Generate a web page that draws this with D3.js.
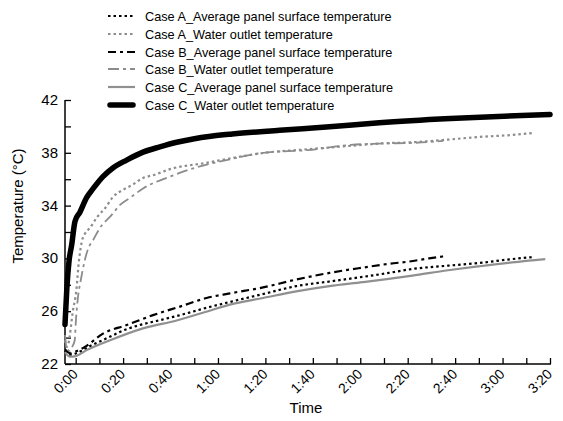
<!DOCTYPE html>
<html>
<head>
<meta charset="utf-8">
<script src="https://cdn.jsdelivr.net/npm/d3@7"></script>
<style>
  body { margin: 0; background: #fff; }
  text { font-family: "Liberation Sans", Arial, sans-serif; }
</style>
</head>
<body>
<script>
var width = 563, height = 421;

// minutes since start
var seriesNames = [
  "Case A_Average panel surface temperature",
  "Case A_Water outlet temperature",
  "Case B_Average panel surface temperature",
  "Case B_Water outlet temperature",
  "Case C_Average panel surface temperature",
  "Case C_Water outlet temperature"
];

var caseAPanel = [[-4.5,23.0],[-2,22.7],[0,22.8],[6.5,23.4],[13.7,24.0],[20.9,24.6],[27,24.95],[35,25.3],[45,25.75],[54,26.2],[65,26.7],[79,27.3],[93,27.9],[107,28.25],[121,28.6],[132,28.9],[142,29.2],[157,29.45],[170,29.65],[184,29.95],[193,30.1]];
var caseAWater = [[-4.5,23.8],[-3.8,23.3],[-3,23.6],[-1.2,26.0],[0.3,27.6],[1.2,29.5],[2.5,31.2],[4,31.9],[6,32.3],[8.9,33.1],[12.4,33.8],[15.7,34.65],[20,35.2],[24.2,35.6],[28.4,36.1],[32.6,36.3],[40.5,36.8],[53.8,37.2],[69,37.7],[82,38.05],[93,38.2],[107,38.4],[121,38.6],[128,38.7],[142,38.8],[157,39.0],[170,39.2],[184,39.35],[193,39.5]];
var caseBPanel = [[-4.5,23.1],[-2,22.8],[0,22.95],[3.9,23.3],[11.5,24.3],[21.5,24.95],[32.6,25.7],[44,26.35],[55.2,27.0],[65,27.35],[79,27.8],[93,28.4],[107,28.9],[121,29.3],[132.5,29.6],[140,29.75],[149,30.0],[155,30.15]];
var caseBWater = [[-4.5,24.2],[-3.8,23.2],[-2.5,23.0],[-1.2,23.4],[-0.4,23.8],[0.1,25.3],[1.0,27.1],[2.2,28.4],[3.9,29.9],[5.2,30.7],[7.4,31.4],[10.2,32.3],[15.2,33.3],[18.7,34.05],[23,34.6],[28.4,35.3],[39.8,36.2],[51,36.9],[65,37.5],[79,38.0],[97.5,38.2],[116,38.6],[128,38.7],[142,38.75],[155,38.9]];
var caseCPanel = [[-4.5,22.9],[-2.4,22.55],[0,22.6],[4.6,23.05],[14.5,23.8],[28.4,24.7],[42.6,25.3],[55.8,26.0],[65,26.5],[79,27.0],[93,27.5],[107,27.9],[121,28.2],[132,28.45],[142,28.7],[157,29.1],[170,29.4],[184,29.7],[198,29.95]];
var caseCWater = [[-4.5,25.0],[-3.7,27.8],[-2.8,29.8],[-1.7,31.0],[-0.3,32.8],[1.8,33.5],[4.6,34.6],[7.4,35.3],[11.5,36.2],[15.7,36.85],[21.5,37.45],[28.4,38.05],[35.5,38.45],[42.6,38.8],[49.5,39.05],[57,39.25],[66,39.42],[86,39.7],[107,39.97],[128,40.28],[158,40.6],[191,40.85],[200,40.9]];

var yTicks = [22, 26, 30, 34, 38, 42];
var xLabels = ["0:00","0:20","0:40","1:00","1:20","1:40","2:00","2:20","2:40","3:00","3:20"];

var styles = [
  { color: "#000", w: 2.2, dash: "2.5,3" },
  { color: "#8c8c8c", w: 2.2, dash: "2.5,3" },
  { color: "#000", w: 2.2, dash: "8,4,3,4" },
  { color: "#8c8c8c", w: 1.8, dash: "11,4,3,4" },
  { color: "#909090", w: 2.2, dash: null },
  { color: "#000", w: 5.5, dash: null }
];
var allData = [caseAPanel, caseAWater, caseBPanel, caseBWater, caseCPanel, caseCWater];

var svg = d3.select("body").append("svg")
  .attr("width", width).attr("height", height);

var x = d3.scaleLinear().domain([-4.5, 200]).range([65, 550]);
var y = d3.scaleLinear().domain([22, 42]).range([364, 100]);

// axes
var yAxis = svg.append("g").attr("transform", "translate(65,0)")
  .call(d3.axisRight(y).tickValues(d3.range(22, 43, 2)).tickSize(6).tickFormat(""));
var xAxis = svg.append("g").attr("transform", "translate(0,364)")
  .call(d3.axisTop(x).tickValues(d3.range(0, 201, 10)).tickSize(6).tickFormat(""));
svg.selectAll(".domain").remove();
svg.selectAll(".tick line").attr("stroke", "#000").attr("stroke-width", 1.3);
svg.append("line").attr("x1", 65).attr("x2", 65).attr("y1", 100).attr("y2", 364)
  .attr("stroke", "#000").attr("stroke-width", 1.5);
svg.append("line").attr("x1", 65).attr("x2", 551).attr("y1", 364).attr("y2", 364)
  .attr("stroke", "#000").attr("stroke-width", 1.5);

svg.selectAll(".ylab").data(yTicks).enter().append("text")
  .attr("x", 58).attr("y", function(d) { return y(d) + 5; })
  .attr("text-anchor", "end").style("font-size", "15px")
  .text(function(d) { return d; });

svg.selectAll(".xlab").data(xLabels).enter().append("text")
  .attr("text-anchor", "end").style("font-size", "14px")
  .attr("transform", function(d, i) {
    return "translate(" + (x(i * 20) + 3) + ",375) rotate(-45)";
  })
  .text(function(d) { return d; });

svg.append("text").attr("x", 306).attr("y", 413).attr("text-anchor", "middle")
  .style("font-size", "15px").text("Time");
svg.append("text").attr("transform", "translate(23,206) rotate(-90)")
  .attr("text-anchor", "middle").style("font-size", "15px").text("Temperature (°C)");

// series
var line = d3.line()
  .x(function(d) { return x(d[0]); })
  .y(function(d) { return y(d[1]); })
  .curve(d3.curveMonotoneX);

allData.forEach(function(data, i) {
  var s = styles[i];
  svg.append("path")
    .attr("d", line(data))
    .attr("fill", "none")
    .attr("stroke", s.color)
    .attr("stroke-width", s.w)
    .attr("stroke-dasharray", s.dash)
    .attr("stroke-linecap", i == 5 ? "round" : "butt");
});

// legend
var legendY = [16, 34, 52, 69, 87, 105];
seriesNames.forEach(function(name, i) {
  var s = styles[i];
  svg.append("line")
    .attr("x1", i == 5 ? 110 : 108).attr("x2", i == 5 ? 133 : 135)
    .attr("y1", legendY[i]).attr("y2", legendY[i])
    .attr("stroke", s.color).attr("stroke-width", s.w)
    .attr("stroke-dasharray", s.dash)
    .attr("stroke-linecap", i == 5 ? "round" : "butt");
  svg.append("text").attr("x", 145).attr("y", legendY[i] + 4.5)
    .style("font-size", "12.7px").text(name);
});
</script>
</body>
</html>
